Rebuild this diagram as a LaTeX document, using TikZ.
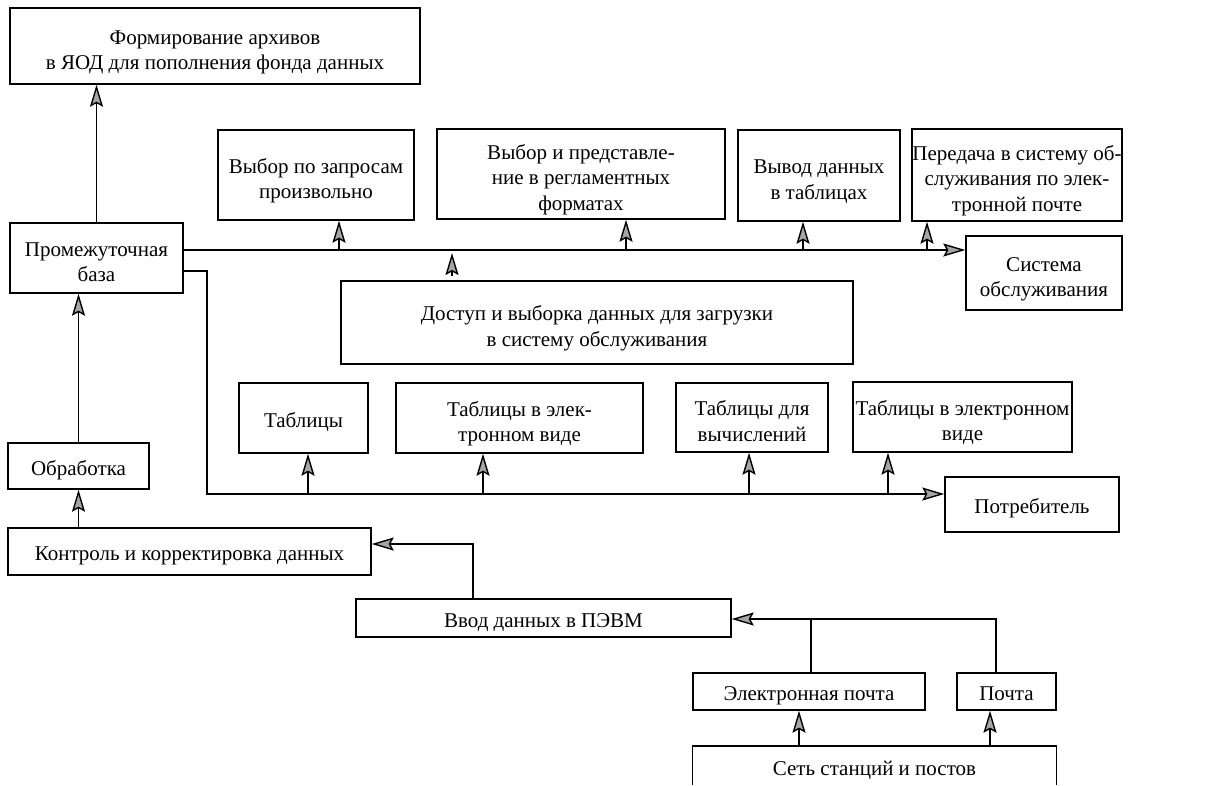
\documentclass[tikz,border=0pt]{standalone}
\usepackage{fontspec}
\setmainfont{Liberation Serif}
\usetikzlibrary{arrows.meta}
\begin{document}
\begin{tikzpicture}[x=1pt,y=-1pt,
  box/.style={draw,line width=1.4pt,inner sep=0pt,align=center,
    font=\fontsize{21}{25.5}\selectfont,text depth=0pt},
  one/.style={text height=18.5pt,text depth=-3.5pt},
  two/.style={text height=47pt},
  three/.style={text height=72pt},
  conn/.style={line width=1.4pt},
  arr/.style={conn,-{Stealth[length=22pt,width=13pt,inset=3.5pt,fill=gray!70]}}]
\useasboundingbox (0,0) rectangle (1223,785);
% boxes
\node[box,two,minimum width=410pt,minimum height=76pt] (arch) at (215,46)
  {Формирование архивов\\в ЯОД для пополнения фонда данных};
\node[box,two,minimum width=173pt,minimum height=70pt] (prom) at (96.5,258)
  {Промежуточная\\база};
\node[box,two,minimum width=196pt,minimum height=90pt] (vyb1) at (316,175)
  {Выбор по запросам\\произвольно};
\node[box,three,minimum width=288pt,minimum height=90pt] (vyb2) at (581,174)
  {Выбор и представле-\\ние в регламентных\\форматах};
\node[box,two,minimum width=162pt,minimum height=91pt] (vyvod) at (819,175.5)
  {Вывод данных\\в таблицах};
\node[box,three,minimum width=210pt,minimum height=92pt] (pered) at (1017,175)
  {Передача в систему об-\\служивания по элек-\\тронной почте};
\node[box,two,minimum width=156pt,minimum height=74pt] (sist) at (1044,273)
  {Система\\обслуживания};
\node[box,two,minimum width=512pt,minimum height=83pt] (dost) at (597,322.5)
  {Доступ и выборка данных для загрузки\\в систему обслуживания};
\node[box,one,minimum width=129pt,minimum height=70pt] (tab1) at (303.5,418)
  {Таблицы};
\node[box,two,minimum width=247pt,minimum height=70pt] (tab2) at (519.5,418)
  {Таблицы в элек-\\тронном виде};
\node[box,two,minimum width=152pt,minimum height=69pt] (tab3) at (752,417.5)
  {Таблицы для\\вычислений};
\node[box,two,minimum width=219pt,minimum height=70pt] (tab4) at (962.5,417)
  {Таблицы в электронном\\виде};
\node[box,one,minimum width=174pt,minimum height=55pt] (potr) at (1032,504.5)
  {Потребитель};
\node[box,one,minimum width=141pt,minimum height=46pt] (obr) at (78.5,466)
  {Обработка};
\node[box,one,minimum width=363pt,minimum height=47pt] (kontr) at (189.5,551.5)
  {Контроль и корректировка данных};
\node[box,one,minimum width=375pt,minimum height=38pt] (vvod) at (543.5,618)
  {Ввод данных в ПЭВМ};
\node[box,one,minimum width=232pt,minimum height=37pt] (epoch) at (809,691.5)
  {Электронная почта};
\node[box,one,minimum width=99pt,minimum height=37pt] (poch) at (1006.5,691.5)
  {Почта};
\node[box,one,draw=none,minimum width=363pt,minimum height=39pt] (set) at (874.5,766)
  {Сеть станций и постов};
\draw[conn] (set.west |- 0,785) -- (set.west |- 0,746) -- (set.east |- 0,746) -- (set.east |- 0,785);
% left column
\draw[arr] (prom.north) -- (prom.north |- arch.south);
\draw[arr] (obr.north) -- (obr.north |- prom.south);
\draw[arr] (obr.south |- kontr.north) -- (obr.south);
% upper distribution line
\coordinate (t0) at ([yshift=8pt]prom.east);
\draw[arr] (t0) -- (t0 -| sist.west);
\coordinate (b1) at (339,250);
\coordinate (b2) at (626,250);
\coordinate (b3) at (803,250);
\coordinate (b4) at (927,250);
\coordinate (b0) at (452,250);
\draw[arr] (b1) -- (b1 |- vyb1.south);
\draw[arr] (b2) -- (b2 |- vyb2.south);
\draw[arr] (b3) -- (b3 |- vyvod.south);
\draw[arr] (b4) -- (b4 |- pered.south);
\draw[arr,shorten <=4pt,shorten >=3pt] (b0 |- dost.north) -- (b0);
% lower distribution line
\coordinate (u0) at ([yshift=-13pt]prom.east);
\coordinate (uc) at (207,494);
\draw[arr] (u0) -| (uc) -- (uc -| potr.west);
\coordinate (c1) at (308,494);
\coordinate (c2) at (483,494);
\coordinate (c3) at (749,494);
\coordinate (c4) at (888,494);
\draw[arr] (c1) -- (c1 |- tab1.south);
\draw[arr] (c2) -- (c2 |- tab2.south);
\draw[arr] (c3) -- (c3 |- tab3.south);
\draw[arr] (c4) -- (c4 |- tab4.south);
% input chain
\coordinate (k1) at (473,544);
\draw[arr] (k1 |- vvod.north) -- (k1) -- (k1 -| kontr.east);
\coordinate (q1) at (996,619);
\coordinate (q2) at (811,619);
\draw[arr] (q1 |- poch.north) -- (q1) -- (q1 -| vvod.east);
\draw[conn] (q2 |- epoch.north) -- (q2);
\coordinate (s1) at (799,746);
\coordinate (s2) at (990,746);
\draw[arr] (s1) -- (s1 |- epoch.south);
\draw[arr] (s2) -- (s2 |- poch.south);
\end{tikzpicture}
\end{document}
